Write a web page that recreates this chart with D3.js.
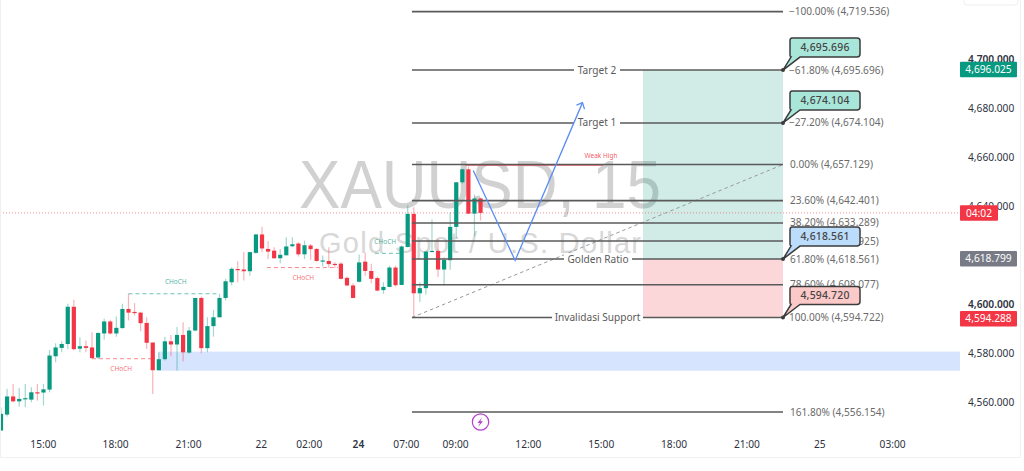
<!DOCTYPE html>
<html>

<head>
    <meta charset="utf-8">
    <title>XAUUSD 15</title>
    <script src="https://d3js.org/d3.v7.min.js"></script>
    <style>
        html, body { margin: 0; padding: 0; background: #fff; overflow: hidden; }
        text { font-family: "Noto Sans", sans-serif; }
        .tick text { fill: #2e3240; font-size: 10.2px; }
        .tick text.major { font-weight: 600; }
    </style>
</head>

<body>
    <svg width="1024" height="471"></svg>
    <script>
        // Candles, one entry per 15 minute bar
        var opens = [4548.6,4555.1,4562.5,4560.5,4561.4,4561.2,4564.2,4564.1,4565.3,4578.9,4582.3,4583.9,4599.1,4582.0,4583.0,4582.5,4578.4,4588.2,4593.1,4588.2,4590.4,4598.2,4597.0,4596.7,4592.5,4584.5,4573.2,4577.7,4585.0,4583.7,4587.6,4580.4,4589.4,4602.7,4582.2,4591.2,4594.8,4602.7,4609.1,4614.5,4614.3,4613.6,4621.1,4628.6,4622.7,4622.0,4618.9,4620.1,4623.8,4624.9,4620.5,4624.1,4622.7,4617.7,4617.8,4616.6,4616.7,4610.9,4607.8,4609.3,4617.5,4613.7,4610.8,4605.9,4607.2,4615.1,4608.0,4623.5,4637.0,4604.6,4606.7,4621.4,4621.9,4614.3,4618.1,4631.7,4649.9,4655.2,4637.1,4643.3];
        var highs = [4558.1,4565.6,4567.6,4565.9,4567.6,4566.3,4567.6,4567.6,4581.5,4584.2,4585.0,4600.3,4602.0,4586.7,4585.3,4588.7,4588.7,4594.2,4593.8,4595.1,4600.3,4604.4,4600.6,4597.1,4594.8,4584.6,4580.5,4586.9,4587.6,4590.8,4592.8,4590.8,4602.7,4603.3,4594.8,4597.8,4604.4,4610.5,4615.2,4617.7,4621.4,4621.4,4628.9,4631.8,4625.9,4623.4,4622.7,4627.5,4627.5,4625.4,4626.1,4624.8,4623.0,4620.0,4623.4,4617.3,4617.3,4611.4,4608.7,4620.4,4621.1,4616.6,4611.4,4609.1,4615.9,4615.9,4624.1,4640.4,4639.7,4609.1,4622.0,4634.7,4626.8,4619.3,4637.7,4649.9,4655.4,4656.3,4644.9,4643.3];
        var lows = [4548.3,4554.3,4560.1,4558.4,4558.1,4560.1,4560.8,4558.8,4564.2,4576.5,4580.5,4581.9,4581.2,4580.5,4580.5,4577.8,4577.8,4585.6,4587.8,4586.9,4590.1,4593.5,4595.5,4589.1,4581.9,4563.5,4573.1,4577.2,4578.9,4573.1,4576.9,4579.9,4589.1,4580.1,4580.5,4586.9,4594.8,4601.6,4607.8,4609.1,4609.8,4611.8,4620.7,4621.4,4618.6,4618.6,4616.9,4620.0,4623.4,4619.6,4618.6,4618.2,4617.5,4615.5,4615.0,4615.0,4610.2,4607.5,4602.6,4609.0,4611.8,4608.7,4605.4,4604.4,4607.1,4607.3,4608.0,4623.3,4594.4,4601.0,4604.1,4621.4,4611.2,4607.8,4614.2,4627.2,4649.3,4637.0,4627.8,4634.3];
        var closes = [4555.4,4562.5,4560.5,4561.5,4561.8,4564.2,4564.0,4565.4,4579.2,4582.5,4583.9,4599.1,4581.8,4583.0,4582.3,4578.2,4588.4,4593.1,4588.2,4590.5,4598.2,4596.7,4596.6,4592.4,4584.4,4573.2,4577.7,4585.0,4583.7,4587.6,4580.5,4589.4,4602.7,4582.2,4591.2,4594.8,4602.7,4609.5,4614.6,4614.2,4613.6,4621.4,4628.6,4622.9,4621.6,4618.9,4620.3,4623.7,4624.6,4620.5,4624.2,4622.6,4617.8,4618.0,4616.5,4616.3,4610.5,4607.8,4602.7,4617.2,4613.7,4610.5,4605.7,4607.2,4615.1,4607.9,4623.7,4637.0,4604.6,4606.7,4621.6,4621.9,4614.3,4618.2,4631.7,4649.9,4655.2,4637.1,4643.3,4637.4];

        // Price axis
        var priceTicks = [4560, 4580, 4600, 4640, 4660, 4680, 4700];
        var majorPrices = [4600, 4700];

        // Time axis, label and bar number
        var timeLabels = ["15:00", "18:00", "21:00", "22", "02:00", "24", "07:00", "09:00", "12:00", "15:00", "18:00", "21:00", "25", "03:00"];
        var timeBars = [6.9, 18.8, 30.8, 42.8, 50.7, 58.8, 66.7, 74.8, 86.8, 98.8, 110.8, 122.8, 134.8, 146.8];

        // Fibonacci levels
        var fibPrices = [4719.536, 4695.696, 4674.104, 4657.129, 4642.401, 4633.289, 4625.925, 4618.561, 4608.077, 4594.722, 4556.154];
        var fibLabels = ["−100.00% (4,719.536)", "−61.80% (4,695.696)", "−27.20% (4,674.104)", "0.00% (4,657.129)", "23.60% (4,642.401)", "38.20% (4,633.289)", "50.00% (4,625.925)", "61.80% (4,618.561)", "78.60% (4,608.077)", "100.00% (4,594.722)", "161.80% (4,556.154)"];

        // Names written on the levels
        var namedPrices = [4695.696, 4674.104, 4618.561, 4594.722];
        var namedTexts = ["Target 2", "Target 1", "Golden Ratio", "Invalidasi Support"];

        // Callouts at the end of the levels
        var calloutPrices = [4695.696, 4674.104, 4618.561, 4594.722];
        var calloutTexts = ["4,695.696", "4,674.104", "4,618.561", "4,594.720"];
        var calloutColors = ["#a9e6da", "#a9e6da", "#bbdcfb", "#fcc9c9"];

        // Price tags on the axis
        var tagPrices = [4696.025, 4637.4, 4618.799, 4594.288];
        var tagTexts = ["4,696.025", "04:02", "4,618.799", "4,594.288"];
        var tagColors = ["#089981", "#f23645", "#787b86", "#f23645"];

        // Drawn path of the idea (bar, price)
        var arrowBars = [77.8, 84.7, 95.8];
        var arrowPrices = [4654.7, 4618, 4682.4];

        // CHoCH marks
        var chochLabels = ["CHoCH", "CHoCH", "CHoCH", "CHoCH"];
        var chochFrom = [21, 15, 43.8, 61.6];
        var chochTo = [36, 25, 55.5, 66];
        var chochPrices = [4604.4, 4577.9, 4615.1, 4620.9];
        var chochColors = ["#089981", "#f23645", "#f23645", "#089981"];
        var chochTextBars = [28.8, 19.8, 49.8, 63.3];
        var chochTextPrices = [4608.5, 4572.8, 4610, 4624.9];

        var width = 1024;
        var height = 471;
        var svg = d3.select("svg");

        var x = d3.scaleLinear().domain([0, 147]).range([1, 1 + 147 * 6.07]);
        var y = d3.scaleLinear().domain([4556.154, 4700]).range([412, 59.5]);

        var green = "#089981";
        var red = "#f23645";
        var fibX0 = x(67.7);
        var fibX1 = 783;
        var plotRight = 960;

        // Watermark
        svg.append("text").attr("x", 299).attr("y", 208).attr("font-size", 69)
            .attr("textLength", 362).attr("lengthAdjust", "spacingAndGlyphs")
            .style("font-family", "Liberation Sans").attr("fill", "#d1d1d1").text("XAUUSD, 15");
        svg.append("text").attr("x", 319).attr("y", 253).attr("font-size", 29)
            .attr("textLength", 322).attr("lengthAdjust", "spacing")
            .style("font-family", "Liberation Sans").attr("fill", "#d8d8d8").text("Gold Spot / U.S. Dollar");

        // Demand zone
        svg.append("rect").attr("x", x(25.9)).attr("y", y(4580.8))
            .attr("width", plotRight - x(25.9)).attr("height", y(4573) - y(4580.8)).attr("fill", "#d6e4fd");

        // Risk and reward boxes
        svg.append("rect").attr("x", 643).attr("y", y(4695.696)).attr("width", fibX1 - 643)
            .attr("height", y(4618.561) - y(4695.696)).attr("fill", green).attr("fill-opacity", 0.19);
        svg.append("rect").attr("x", 643).attr("y", y(4618.561)).attr("width", fibX1 - 643)
            .attr("height", y(4594.722) - y(4618.561)).attr("fill", red).attr("fill-opacity", 0.2);

        // Last price line
        svg.append("line").attr("x1", 0).attr("x2", plotRight).attr("y1", y(4637.4)).attr("y2", y(4637.4))
            .attr("stroke", red).attr("stroke-opacity", 0.55).attr("stroke-width", 1).attr("stroke-dasharray", "1,2");

        // Candles
        var colorOf = function (i) { return closes[i] >= opens[i] ? green : red; };
        svg.selectAll(".wick").data(opens).enter().append("line").attr("class", "wick")
            .attr("x1", function (d, i) { return x(i); })
            .attr("x2", function (d, i) { return x(i); })
            .attr("y1", function (d, i) { return y(highs[i]); })
            .attr("y2", function (d, i) { return y(lows[i]); })
            .attr("stroke", function (d, i) { return colorOf(i); })
            .attr("stroke-width", 1.2)
            .attr("stroke-opacity", 0.38);
        svg.selectAll(".body").data(opens).enter().append("rect").attr("class", "body")
            .attr("x", function (d, i) { return x(i) - 2.1; })
            .attr("width", 4.2)
            .attr("y", function (d, i) { return y(Math.max(opens[i], closes[i])); })
            .attr("height", function (d, i) { return Math.max(1.2, Math.abs(y(opens[i]) - y(closes[i]))); })
            .attr("fill", function (d, i) { return colorOf(i); });

        // CHoCH
        chochLabels.forEach(function (t, i) {
            svg.append("line").attr("x1", x(chochFrom[i])).attr("x2", x(chochTo[i]))
                .attr("y1", y(chochPrices[i])).attr("y2", y(chochPrices[i]))
                .attr("stroke", chochColors[i]).attr("stroke-opacity", 0.6).attr("stroke-dasharray", "4,3");
            svg.append("text").attr("x", x(chochTextBars[i])).attr("y", y(chochTextPrices[i]))
                .attr("text-anchor", "middle").attr("font-size", 6.5)
                .attr("fill", chochColors[i]).attr("fill-opacity", 0.75).text(t);
        });

        // Weak high
        svg.append("line").attr("x1", x(76.5)).attr("x2", 603).attr("y1", y(4656.9)).attr("y2", y(4656.9))
            .attr("stroke", red).attr("stroke-width", 1);
        svg.append("text").attr("x", 601).attr("y", y(4659.9)).attr("text-anchor", "middle")
            .attr("font-size", 6.5).attr("fill", red).attr("fill-opacity", 0.85).text("Weak High");

        // Diagonal of the fib tool
        svg.append("line").attr("x1", fibX0).attr("x2", fibX1)
            .attr("y1", y(4594.722)).attr("y2", y(4657.129))
            .attr("stroke", "#999").attr("stroke-dasharray", "3.5,3");

        // Fib levels
        svg.selectAll(".fib").data(fibPrices).enter().append("line").attr("class", "fib")
            .attr("x1", fibX0).attr("x2", fibX1)
            .attr("y1", function (d) { return y(d); })
            .attr("y2", function (d) { return y(d); })
            .attr("stroke", "#5a5a5a").attr("stroke-width", 1.6);
        svg.selectAll(".fibLabel").data(fibPrices).enter().append("text").attr("class", "fibLabel")
            .attr("x", function (d, i) { return i < 3 || i == 9 ? 789 : 790; })
            .attr("y", function (d) { return y(d) + 3.5; })
            .attr("font-size", 10.1).attr("fill", "#6a6a6a")
            .text(function (d, i) { return fibLabels[i]; });

        // Names on the levels, the white patch breaks the line
        var namedGaps = [46, 46, 68, 91];
        var namedCenters = [597, 597, 598, 597.5];
        namedTexts.forEach(function (t, i) {
            svg.append("rect").attr("x", namedCenters[i] - namedGaps[i] / 2).attr("y", y(namedPrices[i]) - 6)
                .attr("width", namedGaps[i]).attr("height", 12).attr("fill", "#fff");
            svg.append("text").attr("x", namedCenters[i]).attr("y", y(namedPrices[i]) + 3.5)
                .attr("text-anchor", "middle").attr("font-size", 10.1).attr("fill", "#5a5a5a").text(t);
        });

        // Arrow path
        var arrowLine = d3.line().x(function (d) { return x(d[0]); }).y(function (d) { return y(d[1]); });
        var arrowPoints = arrowBars.map(function (b, i) { return [b, arrowPrices[i]]; });
        svg.append("path").attr("d", arrowLine(arrowPoints)).attr("fill", "none").attr("stroke", "#5b8cf5").attr("stroke-width", 1.3);
        var tipX = x(arrowBars[2]);
        var tipY = y(arrowPrices[2]);
        svg.append("path").attr("d", d3.line()([[tipX - 6, tipY + 2.5], [tipX, tipY], [tipX + 2, tipY + 6.5]]))
            .attr("fill", "none").attr("stroke", "#5b8cf5").attr("stroke-width", 1.3);

        // Callouts
        calloutPrices.forEach(function (p, i) {
            var py = y(p);
            var top = py - 32;
            var bottom = py - 13;
            if (i == 3) { top = py - 31; bottom = py - 13; }
            var g = svg.append("g");
            var outline = "M792," + top + " H857 Q860," + top + " 860," + (top + 3) + " V" + (bottom - 3) +
                " Q860," + bottom + " 857," + bottom + " H800 L" + fibX1 + "," + py + " L791," + bottom +
                " Q790," + bottom + " 790," + (bottom - 3) + " V" + (top + 3) + " Q790," + top + " 792," + top + " Z";
            g.append("path").attr("d", outline).attr("fill", calloutColors[i]).attr("stroke", "#3c3c3c").attr("stroke-width", 1.5);
            g.append("circle").attr("cx", fibX1).attr("cy", py).attr("r", 2).attr("fill", "#3c3c3c");
            g.append("text").attr("x", 825).attr("y", (top + bottom) / 2 + 3.7).attr("text-anchor", "middle")
                .attr("font-size", 10.4).attr("font-weight", 500).attr("letter-spacing", 0.2).attr("fill", "#444").text(calloutTexts[i]);
        });

        // Event marker
        svg.append("circle").attr("cx", x(79)).attr("cy", 422).attr("r", 8.2)
            .attr("fill", "#fff").attr("stroke", "#b93fd0").attr("stroke-width", 1.2);
        svg.append("path").attr("d", "M482,417.5 L477.5,423 H480 L478,427 L483,421.2 H480.4 Z").attr("fill", "#b93fd0");

        // Axes
        var yAxis = d3.axisRight(y).tickValues(priceTicks).tickSize(0).tickPadding(0).tickFormat(d3.format(",.3f"));
        var yG = svg.append("g").attr("transform", "translate(968,0)").call(yAxis);
        yG.select(".domain").remove();
        yG.selectAll(".tick text").classed("major", function (d) { return majorPrices.indexOf(d) >= 0; });

        var barIndex = d3.scaleOrdinal().domain(timeBars).range(timeLabels);
        var xAxis = d3.axisBottom(x).tickValues(timeBars).tickSize(0).tickPadding(0)
            .tickFormat(function (d) { return barIndex(d); });
        var xG = svg.append("g").attr("transform", "translate(0,440.5)").call(xAxis);
        xG.select(".domain").remove();
        xG.selectAll(".tick text").classed("major", function (d) { return d == 58.8; });

        // Axis tags
        tagPrices.forEach(function (p, i) {
            var w = i == 1 ? 38 : 57;
            svg.append("rect").attr("x", 960).attr("y", y(p) - 7.6).attr("width", w).attr("height", 15.5).attr("rx", 1).attr("fill", tagColors[i]);
            svg.append("text").attr("x", 960 + w / 2).attr("y", y(p) + 3.6).attr("text-anchor", "middle")
                .attr("font-size", 10.2).attr("fill", "#fff").text(tagTexts[i]);
        });

        // Frame
        svg.append("path").attr("d", "M0.5,0 V457.5 H1020.5 V0").attr("fill", "none").attr("stroke", "#f0f0f0");
        svg.append("path").attr("d", "M964,0 V2 Q964,5 967,5 H1015 Q1018,5 1018,2 V0").attr("fill", "none").attr("stroke", "#eeeeee");
    </script>
</body>

</html>
